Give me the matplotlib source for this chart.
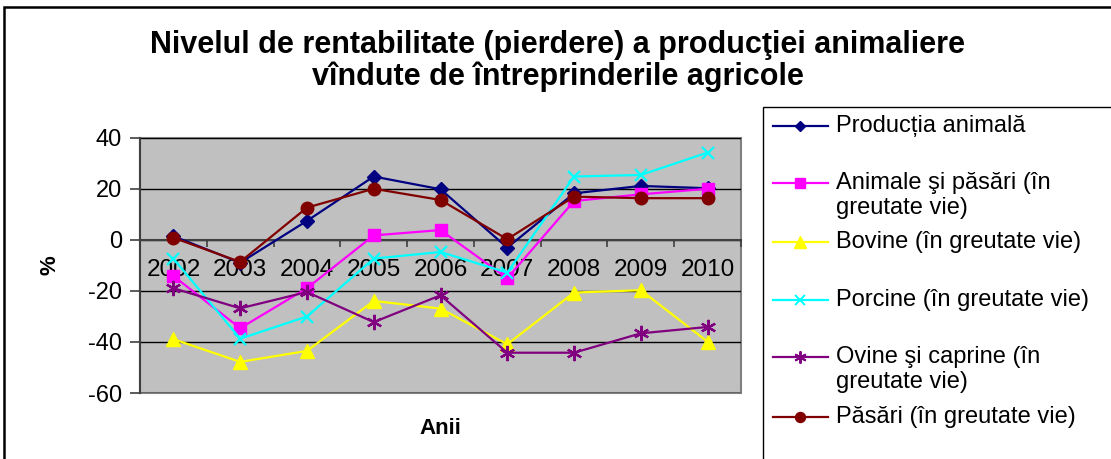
import matplotlib.pyplot as plt
from matplotlib.lines import Line2D
from matplotlib.patches import Rectangle

plt.rcParams['font.family'] = ['Liberation Sans', 'DejaVu Sans']
plt.rcParams['axes.unicode_minus'] = False

years = ['2002', '2003', '2004', '2005', '2006', '2007', '2008', '2009', '2010']

productia = [1.5, -8.9, 7.5, 24.9, 19.9, -3.0, 18.3, 21.2, 20.3]
animale_pasari = [-14.1, -34.6, -18.9, 1.8, 3.9, -15.0, 15.3, 17.9, 20.1]
bovine = [-38.9, -47.8, -43.5, -23.9, -26.9, -40.9, -20.6, -19.7, -39.9]
porcine = [-7.3, -38.7, -30.0, -7.3, -4.7, -12.8, 24.9, 25.5, 34.3]
ovine = [-18.9, -26.8, -20.4, -32.2, -21.7, -44.2, -44.2, -36.6, -34.1]
pasari = [0.9, -8.6, 12.7, 20.1, 15.7, 0.3, 17.0, 16.4, 16.4]

labels = ['Producția animală',
          'Animale şi păsări (în\ngreutate vie)',
          'Bovine (în greutate vie)',
          'Porcine (în greutate vie)',
          'Ovine şi caprine (în\ngreutate vie)',
          'Păsări (în greutate vie)']

W, H = 1111, 459
fig = plt.figure(figsize=(W / 100, H / 100), dpi=100)

# outer chart frame (runs off the right and bottom edges)
fig.patches.append(Rectangle((4 / W, -0.1), 1.2, 1 - 7 / H + 0.1, transform=fig.transFigure,
                             fill=False, edgecolor='black', lw=1.8))

ax = fig.add_axes([140 / W, 1 - 393 / H, 601 / W, 255 / H])
ax.set_facecolor('#C0C0C0')
ax.patch.set_edgecolor('#808080')
ax.patch.set_linewidth(1.5)

x = list(range(len(years)))
styles = [
    (productia, '#000080', 'D', 7),
    (animale_pasari, '#FF00FF', 's', 9),
    (bovine, '#FFFF00', '^', 10),
    (porcine, '#00FFFF', 'x', 9),
    (ovine, '#800080', (6, 2, 0), 11),
    (pasari, '#800000', 'o', 9),
]
for vals, col, mk, ms in styles:
    ax.plot(x, vals, color=col, lw=1.6, marker=mk, markersize=ms,
            markeredgewidth=1.6 if mk in ('x', (6, 2, 0)) else 1, zorder=3)

ax.set_xlim(-0.5, len(years) - 0.5)
ax.set_ylim(-60, 40)
ax.set_yticks(range(-60, 41, 20))
ax.yaxis.grid(True, color='black', lw=1)
ax.set_axisbelow(True)

for s in ['top', 'right']:
    ax.spines[s].set_visible(False)
ax.spines['left'].set_color('#404040')
ax.spines['left'].set_linewidth(1.5)
ax.spines['bottom'].set_position(('data', 0))
ax.spines['bottom'].set_color('#404040')
ax.spines['bottom'].set_linewidth(1.5)

ax.set_xticks(x)
ax.set_xticklabels(years, fontsize=17.5)
ax.set_xticks([i - 0.5 for i in range(len(years) + 1)], minor=True)
ax.tick_params(axis='x', which='major', length=0, pad=14)
ax.tick_params(axis='x', which='minor', length=5, width=1.2, color='#404040', direction='out')
ax.tick_params(axis='y', length=7, width=1.2, color='#404040', pad=6, labelsize=17)

fig.text(50 / W, 1 - 265 / H, '%', rotation=90, fontsize=16, fontweight='bold',
         ha='center', va='center')
fig.text(440 / W, 1 - 428 / H, 'Anii', fontsize=16, fontweight='bold', ha='center', va='center')

fig.text(558 / W, 1 - 61 / H,
         'Nivelul de rentabilitate (pierdere) a producţiei animaliere\nvîndute de întreprinderile agricole',
         fontsize=22, fontweight='bold', ha='center', va='center', linespacing=1.1)

# legend box (runs off the right and bottom edges)
fig.patches.append(Rectangle((763 / W, -0.1), 0.5, 1 - 107 / H + 0.1, transform=fig.transFigure,
                             fill=False, edgecolor='black', lw=1))
legend_y = [126, 183, 242, 300, 357, 417]
for (vals, col, mk, ms), lab, ly in zip(styles, labels, legend_y):
    yy = 1 - ly / H
    fig.add_artist(Line2D([773 / W, 828 / W], [yy, yy], transform=fig.transFigure, color=col, lw=1.6))
    fig.add_artist(Line2D([800 / W], [yy], transform=fig.transFigure, color=col, marker=mk,
                          markersize=ms * 0.8, markeredgewidth=1.4 if mk in ('x', (6, 2, 0)) else 1))
    fig.text(836 / W, yy + 11 / H, lab, fontsize=17, ha='left', va='top', linespacing=1.15)

fig.savefig('out.png', dpi=100)
